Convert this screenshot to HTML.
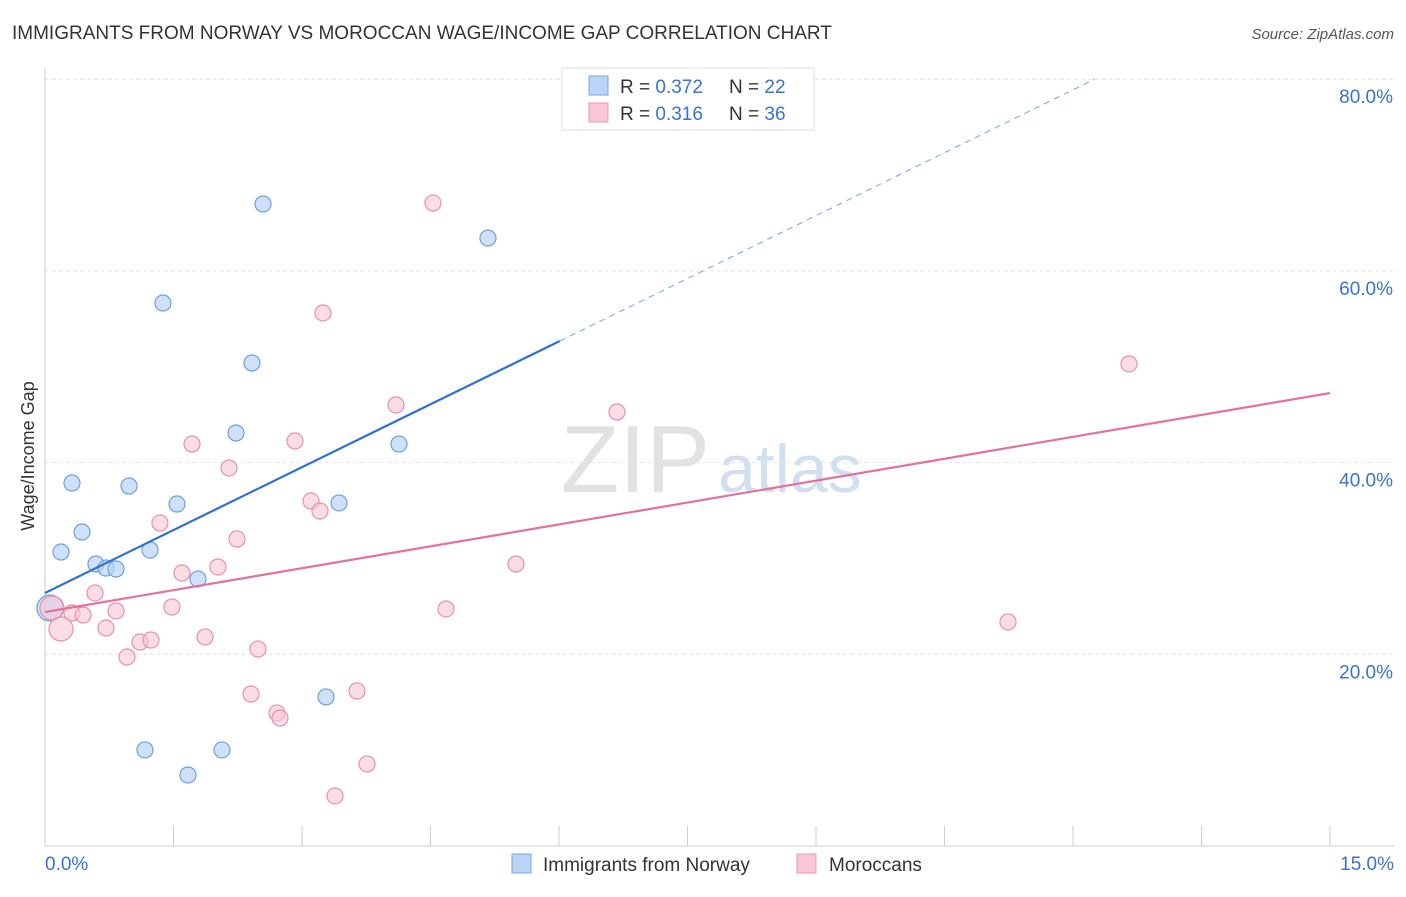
<!DOCTYPE html>
<html><head><meta charset="utf-8"><style>
body{margin:0;background:#fff;font-family:"Liberation Sans",sans-serif;}
svg text{font-family:"Liberation Sans",sans-serif;}
</style></head><body>
<svg width="1406" height="892" id="chart">
<text x="12" y="39" font-size="19" fill="#333">IMMIGRANTS FROM NORWAY VS MOROCCAN WAGE/INCOME GAP CORRELATION CHART</text>
<text x="1394" y="39" font-size="15" fill="#555" font-style="italic" text-anchor="end">Source: ZipAtlas.com</text>
<text x="710" y="492" font-size="96" fill="#e2e2e2" font-family="Liberation Serif" text-anchor="end">ZIP</text>
<text x="718" y="492" font-size="68" fill="#d0dff2">atlas</text>
<g id="grid"></g><g id="axes"></g><g id="marks"></g>
<text transform="translate(34,456) rotate(-90)" font-size="18" fill="#333" text-anchor="middle">Wage/Income Gap</text>
<g>
<rect x="562" y="68" width="252" height="62" fill="#fff" stroke="#ddd"/>
<rect x="589" y="76" width="19" height="19" fill="#b9d4f7" stroke="#7aa6e0"/>
<rect x="589" y="103" width="19" height="19" fill="#f9c6d6" stroke="#eb98b2"/>
<text x="620" y="93" font-size="19" fill="#333">R = <tspan fill="#3a72d0">0.372</tspan></text>
<text x="729" y="93" font-size="19" fill="#333">N = <tspan fill="#3a72d0">22</tspan></text>
<text x="620" y="120" font-size="19" fill="#333">R = <tspan fill="#3a72d0">0.316</tspan></text>
<text x="729" y="120" font-size="19" fill="#333">N = <tspan fill="#3a72d0">36</tspan></text>
</g>
<g>
<rect x="512" y="854" width="19" height="19" fill="#b9d4f7" stroke="#7aa6e0"/>
<text x="543" y="871" font-size="19" fill="#333">Immigrants from Norway</text>
<rect x="797" y="854" width="19" height="19" fill="#f9c6d6" stroke="#eb98b2"/>
<text x="829" y="871" font-size="19" fill="#333">Moroccans</text>
</g>
</svg>
<script>
const xTicks=[0,1.5,3,4.5,6,7.5,9,10.5,12,13.5,15];
const yTicks=[20,40,60,80];
const yTickLabels=["20.0%","40.0%","60.0%","80.0%"];
const xEndLabels=["0.0%","15.0%"];
const norwayX=[2.545,5.171,1.377,2.416,2.230,4.132,0.315,0.981,1.541,3.432,0.432,0.187,1.226,0.595,0.712,0.829,1.786,0.058,3.280,1.167,2.066,1.669];
const norwayY=[66.98,63.43,56.65,50.39,43.09,41.94,37.87,37.56,35.68,35.79,32.76,30.67,30.88,29.42,29.00,28.90,27.86,24.83,15.55,10.02,10.02,7.41];
const moroccanX=[4.529,3.245,12.654,4.097,6.677,1.716,2.918,2.148,1.342,3.105,3.210,2.241,5.498,1.599,2.019,0.584,1.482,0.082,0.315,0.444,0.829,4.681,11.241,0.187,0.712,1.868,1.109,1.237,2.486,0.957,2.405,3.642,2.708,2.743,3.759,3.385];
const moroccanY=[67.08,55.61,50.29,46.01,45.28,41.94,42.25,39.44,33.70,35.99,34.95,32.03,29.42,28.48,29.11,26.40,24.93,24.83,24.31,24.10,24.52,24.73,23.37,22.64,22.74,21.81,21.28,21.49,20.55,19.72,15.86,16.17,13.88,13.35,8.56,5.22];
const norwayTrend=[26.40,4.374];
const moroccanTrend=[24.41,1.523];
const NS="http://www.w3.org/2000/svg";
const X=v=>45+v/15*1285, Y=v=>846-v/20*191.7;
function mk(t,a,p){const e=document.createElementNS(NS,t);for(const k in a)e.setAttribute(k,a[k]);document.getElementById(p).appendChild(e);return e;}
yTicks.forEach((t,i)=>{
 const l=mk('line',{x1:45,x2:1394,y1:Y(t),y2:Y(t),stroke:'#e4e4e4','stroke-dasharray':'4,3'},'grid');
 
 
 const tx=mk('text',{x:1393,y:Y(t)+24,'font-size':19,fill:'#3a72d0','text-anchor':'end'},'axes');
 tx.textContent=yTickLabels[i];
 
 
});
const ax=mk('line',{x1:45,x2:45,y1:68,y2:846,stroke:'#ccc'},'axes');


const bx=mk('line',{x1:45,x2:1394,y1:846,y2:846,stroke:'#ccc'},'axes');


xTicks.forEach(t=>{const l=mk('line',{x1:X(t),x2:X(t),y1:826,y2:846,stroke:'#ccc'},'axes');
 
 });
[[0,'start',45],[15,'end',1394]].forEach((d,i)=>{const t=mk('text',{x:d[2],y:870,'font-size':19,fill:'#3a72d0','text-anchor':d[1]},'axes');t.textContent=xEndLabels[i];
 
 });
function dot(x,y,fill,stroke,r){const c=mk('circle',{cx:X(x),cy:Y(y),r:r,fill:fill,stroke:stroke,'stroke-width':1.2},'marks');return c;}
norwayX.forEach((x,i)=>{const c=dot(x,norwayY[i],'rgba(185,212,247,0.7)','#6f9fdc',i==17?13:8);
 
 });
moroccanX.forEach((x,i)=>{const c=dot(x,moroccanY[i],'rgba(249,198,214,0.6)','#e890ad',(i==17||i==23)?12:8);
 
 });
const bEnd=6.01, bDash=(80-norwayTrend[0])/norwayTrend[1];
const l1=mk('line',{x1:X(0),y1:Y(norwayTrend[0]),x2:X(bEnd),y2:Y(norwayTrend[0]+norwayTrend[1]*bEnd),stroke:'#2f6fd6','stroke-width':2.2},'marks');


const l2=mk('line',{x1:X(bEnd),y1:Y(norwayTrend[0]+norwayTrend[1]*bEnd),x2:X(bDash),y2:Y(80),stroke:'#8ab0e6','stroke-width':1.2,'stroke-dasharray':'6,5'},'marks');


const l3=mk('line',{x1:X(0),y1:Y(moroccanTrend[0]),x2:X(15),y2:Y(moroccanTrend[0]+moroccanTrend[1]*15),stroke:'#e5709a','stroke-width':2.2},'marks');


</script>
</body></html>
